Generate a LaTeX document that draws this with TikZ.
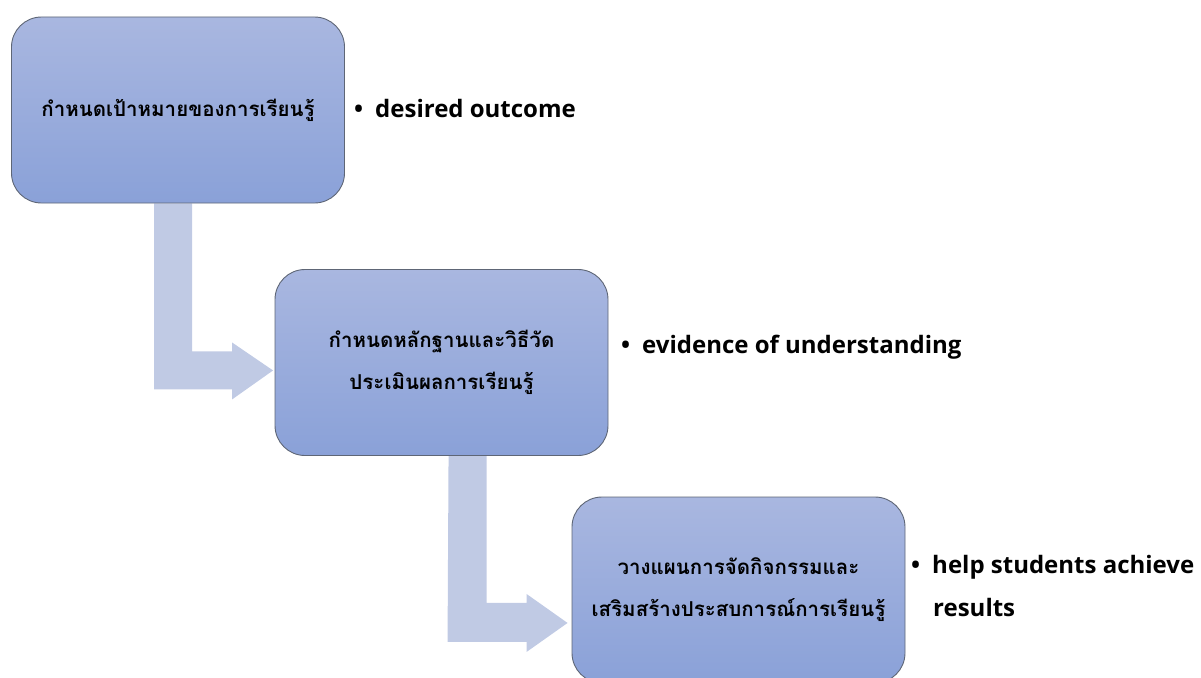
\documentclass[tikz,border=0pt]{standalone}
\usepackage{fontspec}
\setmainfont{Open Sans}
\newfontfamily\thaifont[Script=Thai]{Loma}
\newfontfamily\latinfont{Open Sans}
\usetikzlibrary{calc,backgrounds}
\definecolor{boxtop}{HTML}{A9B7E0}
\definecolor{boxbot}{HTML}{8AA1D8}
\definecolor{boxline}{HTML}{5E6676}
\definecolor{arrowfill}{HTML}{C0CAE4}
\tikzset{
  stepbox/.style={draw=boxline, line width=0.9pt, rounded corners=30pt,
    top color=boxtop, bottom color=boxbot, minimum width=333pt, minimum height=186pt,
    inner sep=0pt, align=center, font=\thaifont\bfseries\fontsize{20.5}{42}\selectfont},
  bullettext/.style={anchor=west, inner sep=0pt, align=left,
    font=\latinfont\bfseries\fontsize{24}{43}\selectfont},
  bentarrow/.style={fill=arrowfill, draw=none}
}
\begin{document}
\begin{tikzpicture}[x=1pt,y=-1pt]
\useasboundingbox (0,0) rectangle (1201,677);
\clip (0,0) rectangle (1201,677);
\node[stepbox] (b1) at (178,110) {กำหนดเป้าหมายของการเรียนรู้};
\node[stepbox] (b2) at (441.5,362.5) {กำหนดหลักฐานและวิธีวัด\\ประเมินผลการเรียนรู้};
\node[stepbox] (b3) at (738.5,590) {วางแผนการจัดกิจกรรมและ\\เสริมสร้างประสบการณ์การเรียนรู้};
\begin{pgfonlayer}{background}
\coordinate (a1s) at ($(b1.south west)+(143,0)$);
\coordinate (a2s) at ($(b2.south west)+(174,0)$);
\fill[bentarrow] (a1s) -- ++(38,0) -- ++(0,148) -- ++(40,0) -- ++(0,-9) -- ++(41,28)
  -- ++(-41,29) -- ++(0,-10) -- ++(-78,0) -- cycle;
\fill[bentarrow] (a2s) -- ++(38,0) -- ++(0,147) -- ++(40,0) -- ++(0,-9) -- ++(41,29)
  -- ++(-41,29) -- ++(0,-10) -- ++(-79,0) -- cycle;
\end{pgfonlayer}
\node[bullettext] (t1) at (354,108) {•\hspace{12pt}desired outcome};
\node[bullettext] (t2) at (621,347) {•\hspace{12pt}evidence of understanding};
\node[bullettext] (t3) at (911,586) {•\hspace{12pt}help students achieve\\\hspace{22pt}results};
\end{tikzpicture}
\end{document}
